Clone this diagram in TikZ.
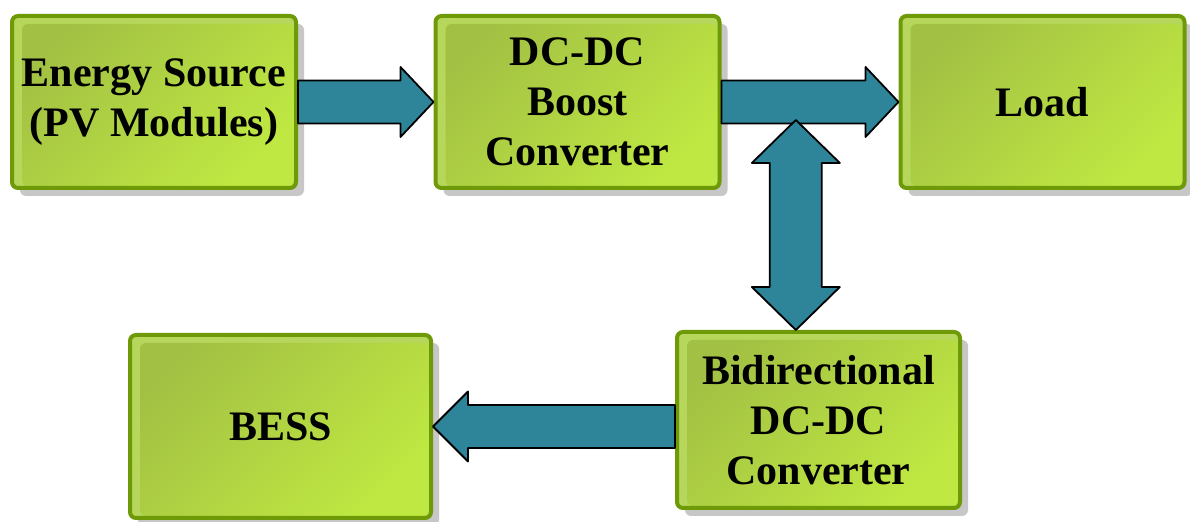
\documentclass[tikz,border=0pt]{standalone}
\usepackage{fontspec}
\setmainfont{Liberation Serif}
\usetikzlibrary{calc,shadows}

\definecolor{boxedge}{HTML}{6F9A08}
\definecolor{boxrim}{HTML}{B6D75C}
\definecolor{boxtop}{HTML}{A2C043}
\definecolor{boxbot}{HTML}{BFE842}
\definecolor{flowfill}{HTML}{2E8499}

\tikzset{
  block/.style={draw=boxedge, line width=2pt, rounded corners=3pt, fill=boxrim,
    minimum width=142pt, minimum height=86pt, align=center, text=black,
    font=\bfseries\fontsize{21}{25}\selectfont,
    drop shadow={shadow xshift=4pt, shadow yshift=-4pt, fill=black, opacity=.22},
    path picture={\shade[top color=boxtop, bottom color=boxbot, shading angle=45, rounded corners=3pt]
      ([xshift=5pt,yshift=-4pt]path picture bounding box.north west) rectangle
      ([xshift=-1pt,yshift=1pt]path picture bounding box.south east);}},
  flow/.style={fill=flowfill, draw=black, line width=0.9pt, line join=round}
}

% fat arrow: from, to, half shaft, half head, head length
\newcommand{\flowarrow}[5]{%
  \coordinate (hb) at ($(#2)!#5!(#1)$);
  \draw[flow] ($(#1)!#3!90:(#2)$) -- ($(hb)!#3!90:(#2)$) -- ($(hb)!#4!90:(#2)$) -- (#2)
    -- ($(hb)!#4!-90:(#2)$) -- ($(hb)!#3!-90:(#2)$) -- ($(#1)!#3!-90:(#2)$) -- cycle;
}

\begin{document}
\begin{tikzpicture}[x=0.5pt, y=-0.5pt]
  \useasboundingbox (0,0) rectangle (1190,522);

  % blocks
  \node[block] (energy) at (154,102) {Energy Source\\(PV Modules)};
  \node[block] (boost) at (577.5,102) {DC-DC\\Boost\\Converter};
  \node[block] (load) at (1042.5,102) {Load};
  \node[block, minimum width=150.5pt, minimum height=91.5pt] (bess) at (280.5,426.5) {BESS};
  \node[block, minimum width=141.5pt, minimum height=88pt] (bidir) at (818.5,420) {Bidirectional\\DC-DC\\Converter};

  % power flow
  \flowarrow{energy.east}{boost.west}{10.75pt}{17.5pt}{16.5pt}
  \flowarrow{boost.east}{load.west}{10.75pt}{17.5pt}{16.5pt}
  \coordinate (charge) at (bidir.west |- bess.east);
  \flowarrow{charge}{bess.east}{10.75pt}{17.5pt}{17.5pt}

  % bus to battery converter, both ways
  \coordinate (tee) at ($(boost.east)!0.42!(load.west) + (0,18)$);
  \coordinate (bot) at (tee |- bidir.north);
  \coordinate (ht) at ($(tee)!21.5pt!(bot)$);
  \coordinate (hd) at ($(bot)!21.5pt!(tee)$);
  \draw[flow] (tee) -- ($(ht)!22pt!90:(bot)$) -- ($(ht)!13pt!90:(bot)$)
    -- ($(hd)!13pt!-90:(tee)$) -- ($(hd)!22pt!-90:(tee)$) -- (bot)
    -- ($(hd)!22pt!90:(tee)$) -- ($(hd)!13pt!90:(tee)$)
    -- ($(ht)!13pt!-90:(bot)$) -- ($(ht)!22pt!-90:(bot)$) -- cycle;
\end{tikzpicture}
\end{document}
